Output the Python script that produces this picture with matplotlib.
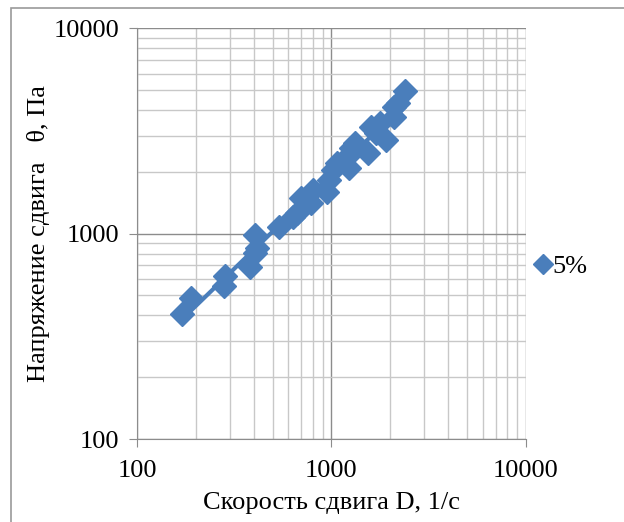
import numpy as np
import matplotlib
matplotlib.use('Agg')
import matplotlib.pyplot as plt
from matplotlib.patches import Rectangle
from matplotlib.ticker import FixedLocator, NullFormatter

plt.rcParams['font.family'] = ['Liberation Serif', 'DejaVu Serif']

# shear rate D, 1/s and shear stress, Pa (5%)
shear_rate = [170, 190, 280, 285, 381, 404, 414, 404, 537, 634, 665, 697, 785, 804,
              948, 970, 1018, 1067, 1230, 1202, 1260, 1320, 1551, 1590, 1700, 1774,
              1910, 2091, 2091, 2200, 2390]
stress = [405, 485, 556, 621, 687, 804, 850, 984, 1076, 1203, 1259, 1489, 1406, 1629,
          1592, 1820, 2037, 2203, 2084, 2356, 2606, 2754, 2466, 3296, 3083, 3450,
          2851, 3690, 4128, 4315, 4932]
series_label = '5%'

color = '#4a7ebb'

fig = plt.figure(figsize=(6.24, 5.22), dpi=100)
ax = fig.add_axes([0.2196, 0.159, 0.623, 0.787])

# power trend line
k, b = np.polyfit(np.log10(shear_rate), np.log10(stress), 1)
xt = np.array([min(shear_rate), max(shear_rate)])
ax.plot(xt, 10 ** b * xt ** k, color=color, lw=3, zorder=3)

ax.plot(shear_rate, stress, 'D', color=color, ms=12.5, mec=color, zorder=4,
        label=series_label)

ax.set_xscale('log')
ax.set_yscale('log')
ax.set_xlim(100, 10000)
ax.set_ylim(100, 10000)

ax.xaxis.set_major_locator(FixedLocator([100, 1000, 10000]))
ax.yaxis.set_major_locator(FixedLocator([100, 1000, 10000]))
ax.set_xticklabels(['100', '1000', '10000'])
ax.set_yticklabels(['100', '1000', '10000'])
ax.xaxis.set_minor_formatter(NullFormatter())
ax.yaxis.set_minor_formatter(NullFormatter())

ax.grid(True, which='major', color='#8c8c8c', lw=1.0)
ax.grid(True, which='minor', color='#c8c8c8', lw=1.0)
ax.set_axisbelow(True)

for s in ['top', 'right']:
    ax.spines[s].set_visible(False)
for s in ['left', 'bottom']:
    ax.spines[s].set_color('#8c8c8c')
ax.tick_params(which='major', length=6, color='#8c8c8c', labelsize=19)
ax.tick_params(axis='x', pad=9)
ax.tick_params(axis='y', pad=7)
ax.tick_params(which='minor', length=0)

ax.set_xlabel('Скорость сдвига D, 1/с', fontsize=19, labelpad=7)
ax.set_ylabel('Напряжение сдвига   θ, Па', fontsize=19, labelpad=2)

fig.legend(loc='center left', bbox_to_anchor=(0.82, 0.49), frameon=False,
           fontsize=19, handlelength=0.6, handletextpad=0.05, markerscale=0.8)

fig.patches.append(Rectangle((0.017, -0.05), 1.0, 1.034, transform=fig.transFigure,
                             fill=False, edgecolor='#9a9a9a', lw=1.2))

fig.savefig('out.png', dpi=100)
